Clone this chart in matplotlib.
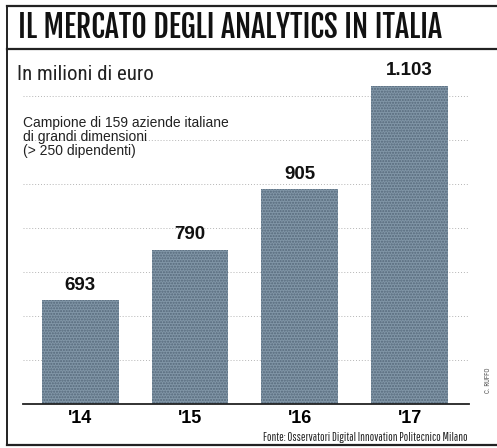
import matplotlib.pyplot as plt
from matplotlib.lines import Line2D
import numpy as np

# data
years = ["'14", "'15", "'16", "'17"]
values = [693, 790, 905, 1103]
value_labels = ["693", "790", "905", "1.103"]

W, H = 497, 448

def fx(x):
    return x / W

def fy(y):
    return 1 - y / H

fig = plt.figure(figsize=(W / 100, H / 100), dpi=100)
fig.patch.set_facecolor("white")

# frame of the newspaper box
fig.add_artist(Line2D([fx(7), fx(497)], [fy(6), fy(6)], color="#222222", lw=1.6))
fig.add_artist(Line2D([fx(7), fx(497)], [fy(49), fy(49)], color="#222222", lw=1.6))
fig.add_artist(Line2D([fx(7), fx(497)], [fy(445), fy(445)], color="#222222", lw=1.6))
fig.add_artist(Line2D([fx(7), fx(7)], [fy(6), fy(445)], color="#222222", lw=1.4))

renderer = fig.canvas.get_renderer()

def fit_width(t, target_px):
    # shrink/grow a text so it spans target_px horizontally
    w = t.get_window_extent(renderer).width
    t.set_fontsize(t.get_fontsize() * target_px / w)

title = fig.text(fx(18), fy(28), "IL MERCATO DEGLI ANALYTICS IN ITALIA",
                 family=["Fjalla One", "Oswald", "DejaVu Sans"], fontsize=22,
                 va="center", ha="left", color="#111111")
fit_width(title, 424)

fig.text(fx(17), fy(74), "In milioni di euro", family=["Roboto Condensed", "DejaVu Sans"],
         fontsize=15, va="center", ha="left", color="#222222")
fig.text(fx(23), fy(137), "Campione di 159 aziende italiane\ndi grandi dimensioni\n(> 250 dipendenti)",
         family="Liberation Sans", fontsize=10, va="center", ha="left",
         color="#222222", linespacing=0.98)
src = fig.text(fx(468), fy(437), "Fonte: Osservatori Digital Innovation Politecnico Milano",
               family=["Pathway Gothic One", "Roboto Condensed", "DejaVu Sans"],
               fontsize=8.5, va="center", ha="right", color="#222222")
fit_width(src, 205)
fig.text(fx(489), fy(380), "C. RUFFO", family=["Roboto Condensed", "DejaVu Sans"],
         fontsize=5, rotation=90, va="center", ha="center", color="#555555")

ax = fig.add_axes([fx(23), fy(404), fx(469) - fx(23), (404 - 60) / H])
x = np.arange(len(years))
ax.bar(x, values, width=0.7, color="#8196a7", edgecolor="#55687a",
       hatch="......", linewidth=0, zorder=2)
ax.set_xlim(-0.52, 3.54)
ax.set_ylim(495, 1152)

for xi, v, lab in zip(x, values, value_labels):
    ax.text(xi, v + 12, lab, ha="center", va="bottom", fontsize=13.5,
            fontweight="bold", family="Liberation Sans", color="#111111")

# dotted guide lines
ax.set_yticks(np.arange(495 + 84, 1100, 84))
ax.yaxis.grid(True, color="#b5b5b5", linestyle=(0, (1, 2)), linewidth=0.7, zorder=0)
ax.tick_params(axis="y", length=0, labelleft=False)

ax.set_xticks(x)
ax.set_xticklabels(years, fontsize=13, fontweight="bold", family="Liberation Sans")
ax.tick_params(axis="x", length=0, pad=4)

for s in ["top", "right", "left"]:
    ax.spines[s].set_visible(False)
ax.spines["bottom"].set_color("#222222")
ax.spines["bottom"].set_linewidth(1.3)

fig.savefig("out.png", dpi=100)
